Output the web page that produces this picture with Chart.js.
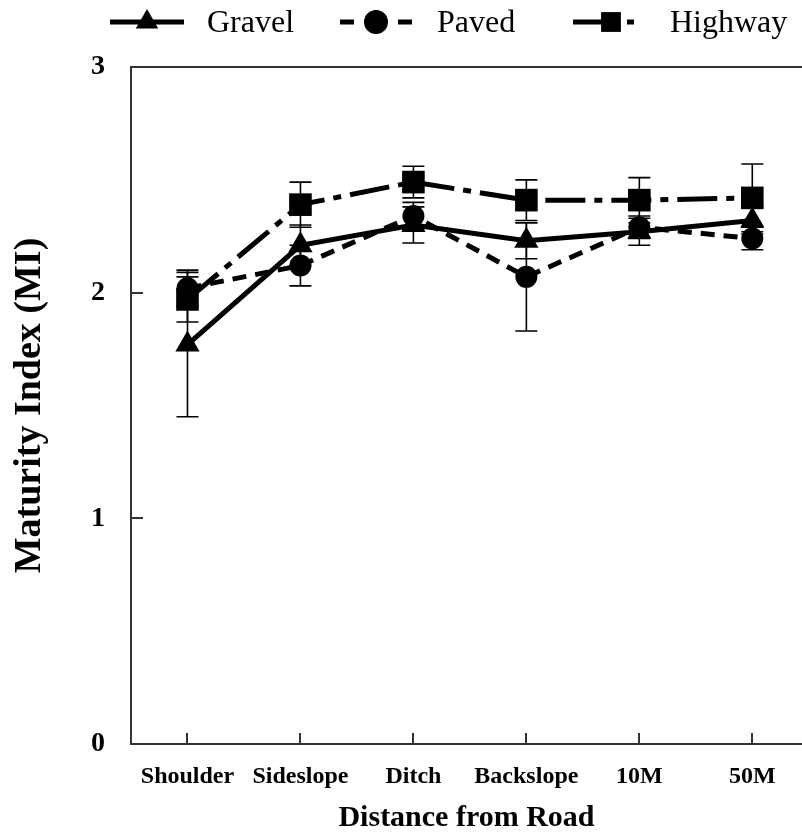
<!DOCTYPE html>
<html lang="en">
<head>
<meta charset="UTF-8">
<title>Maturity Index by Distance from Road</title>
<style>
    html, body { margin: 0; padding: 0; background: #fff; overflow: hidden; }
    .wrap { position: relative; width: 802px; height: 833px; }
    canvas { display: block; }
</style>
<script src="https://cdn.jsdelivr.net/npm/chart.js"></script>
</head>
<body>
<div class="wrap"><canvas id="miChart"></canvas></div>
<script>
// data
const categories = ['Shoulder', 'Sideslope', 'Ditch', 'Backslope', '10M', '50M'];
const seriesNames = ['Gravel', 'Paved', 'Highway'];
const gravel  = [1.77, 2.21, 2.30, 2.23, 2.27, 2.32];
const paved   = [2.02, 2.12, 2.34, 2.07, 2.29, 2.24];
const highway = [1.97, 2.39, 2.49, 2.41, 2.41, 2.42];
const gravelErr  = [0.32, 0.09, 0.08, 0.08, 0.06, 0.06];
const pavedErr   = [0.08, 0.09, 0.06, 0.24, 0.05, 0.05];
const highwayErr = [0.10, 0.10, 0.07, 0.09, 0.10, 0.15];
const yTicks = [0, 1, 2, 3];

const serif = '"Liberation Serif", "Times New Roman", serif';
const errorSets = [gravelErr, pavedErr, highwayErr];

function toPoints(values) {
    return values.map((v, i) => ({ x: i, y: v }));
}

// vertical error bars with caps, drawn under the markers
const errorBars = {
    id: 'errorBars',
    beforeDatasetsDraw(chart) {
        const ctx = chart.ctx;
        const y = chart.scales.y;
        ctx.save();
        ctx.strokeStyle = '#000';
        ctx.lineWidth = 1.6;
        chart.data.datasets.forEach((ds, di) => {
            const meta = chart.getDatasetMeta(di);
            meta.data.forEach((pt, i) => {
                const v = ds.data[i].y, e = errorSets[di][i];
                const y1 = y.getPixelForValue(v - e), y2 = y.getPixelForValue(v + e);
                ctx.beginPath();
                ctx.moveTo(pt.x, y1); ctx.lineTo(pt.x, y2);
                ctx.moveTo(pt.x - 11, y1); ctx.lineTo(pt.x + 11, y1);
                ctx.moveTo(pt.x - 11, y2); ctx.lineTo(pt.x + 11, y2);
                ctx.stroke();
            });
        });
        ctx.restore();
    }
};

// top frame line and the inward tick marks
const frame = {
    id: 'frame',
    beforeDatasetsDraw(chart) {
        const { ctx, chartArea: a, scales } = chart;
        ctx.save();
        ctx.strokeStyle = '#333';
        ctx.lineWidth = 2;
        ctx.beginPath();
        ctx.moveTo(a.left, a.top); ctx.lineTo(a.right, a.top);
        yTicks.forEach(v => {
            const py = Math.round(scales.y.getPixelForValue(v));
            ctx.moveTo(a.left, py); ctx.lineTo(a.left + 12, py);
        });
        categories.forEach((c, i) => {
            const px = Math.round(scales.x.getPixelForValue(i));
            ctx.moveTo(px, a.bottom); ctx.lineTo(px, a.bottom - 11);
        });
        ctx.stroke();
        ctx.restore();
    }
};

// legend across the top: line sample, marker, name
const topLegend = {
    id: 'topLegend',
    afterDraw(chart) {
        const ctx = chart.ctx;
        const ly = 22;
        const items = [
            { segs: [[110, 184]], style: 'triangle', r: 13, mx: 147, tx: 207 },
            { segs: [[340, 354], [398, 412]], style: 'circle', r: 12, mx: 376, tx: 437 },
            { segs: [[573, 609], [627, 634]], style: 'rect', r: 14, mx: 611, tx: 670 }
        ];
        ctx.save();
        ctx.strokeStyle = '#000';
        ctx.fillStyle = '#000';
        ctx.lineWidth = 5;
        items.forEach((it, i) => {
            ctx.beginPath();
            it.segs.forEach(s => { ctx.moveTo(s[0], ly); ctx.lineTo(s[1], ly); });
            ctx.stroke();
            Chart.helpers.drawPoint(ctx, { pointStyle: it.style, radius: it.r, rotation: 0, borderWidth: 0 }, it.mx, ly);
            ctx.font = '32px ' + serif;
            ctx.textAlign = 'left';
            ctx.textBaseline = 'middle';
            ctx.fillText(seriesNames[i], it.tx, ly + 2);
        });
        ctx.restore();
    }
};

function series(name, values, dash, style, radius, order) {
    return {
        label: name,
        data: toPoints(values),
        borderColor: '#000',
        backgroundColor: '#000',
        borderWidth: 5,
        borderDash: dash,
        pointStyle: style,
        pointRadius: radius,
        pointHoverRadius: radius,
        pointBorderWidth: 0,
        pointBackgroundColor: '#000',
        tension: 0,
        order: order
    };
}

new Chart(document.getElementById('miChart'), {
    type: 'line',
    data: {
        datasets: [
            series(seriesNames[0], gravel, [], 'triangle', 14, 1),
            series(seriesNames[1], paved, [14, 9], 'circle', 11, 2),
            series(seriesNames[2], highway, [40, 9, 8, 9], 'rect', 16, 0)
        ]
    },
    options: {
        responsive: true,
        maintainAspectRatio: false,
        devicePixelRatio: 1,
        animation: false,
        layout: { autoPadding: false, padding: { top: 67, right: 0, bottom: 0, left: 0 } },
        plugins: {
            legend: { display: false },
            tooltip: { enabled: false }
        },
        scales: {
            x: {
                type: 'linear',
                min: -0.5,
                max: 5.44,
                afterBuildTicks: s => { s.ticks = categories.map((c, i) => ({ value: i })); },
                afterFit: s => { s.height = 89; s.paddingLeft = 0; s.paddingRight = 0; },
                grid: { display: false, drawTicks: false },
                border: { display: true, color: '#333', width: 2 },
                ticks: {
                    callback: v => categories[v],
                    autoSkip: false,
                    maxRotation: 0,
                    padding: 18,
                    color: '#000',
                    font: { family: serif, size: 24, weight: 'bold' }
                },
                title: {
                    display: true,
                    text: 'Distance from Road',
                    color: '#000',
                    padding: { top: 0, bottom: 0 },
                    font: { family: serif, size: 30, weight: 'bold', lineHeight: 1 }
                }
            },
            y: {
                min: 0,
                max: 3,
                afterBuildTicks: s => { s.ticks = yTicks.map(v => ({ value: v })); },
                afterFit: s => { s.width = 131; },
                grid: { display: false, drawTicks: false },
                border: { display: true, color: '#333', width: 2 },
                ticks: {
                    padding: 26,
                    color: '#000',
                    font: { family: serif, size: 28, weight: 'bold' }
                },
                title: {
                    display: true,
                    text: 'Maturity Index (MI)',
                    color: '#000',
                    padding: { top: 11, bottom: 0 },
                    font: { family: serif, size: 38, weight: 'bold', lineHeight: 1 }
                }
            }
        }
    },
    plugins: [frame, errorBars, topLegend]
});
</script>
</body>
</html>
